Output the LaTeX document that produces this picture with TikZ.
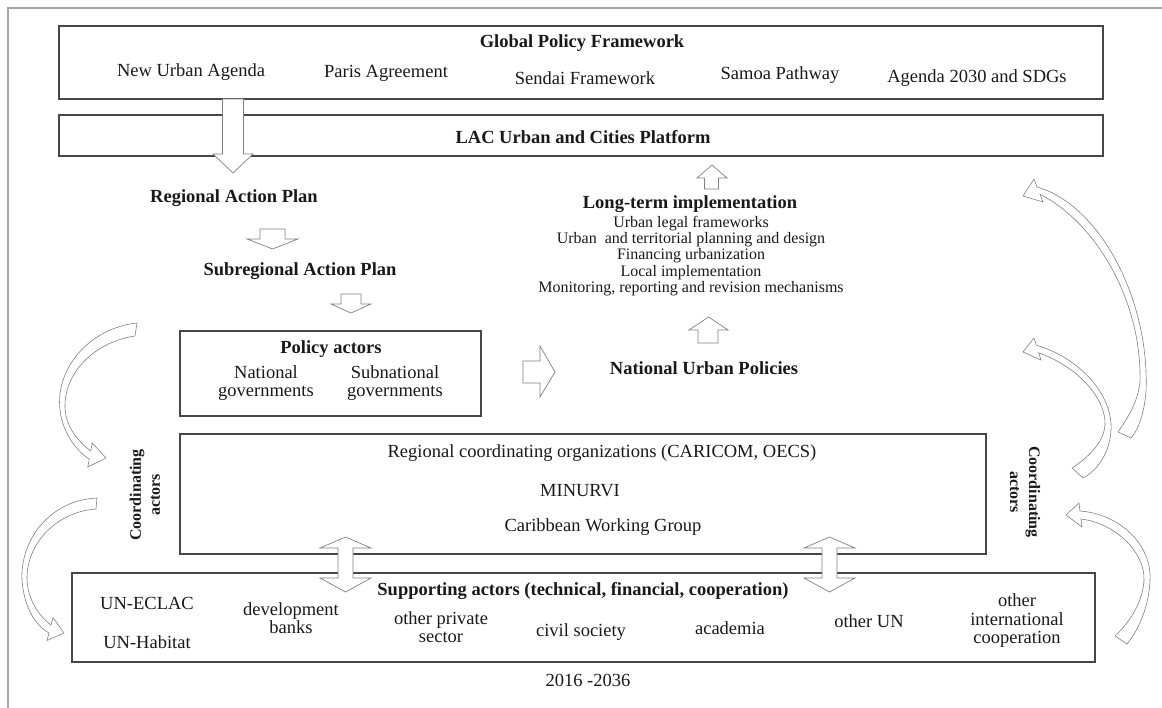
\documentclass[tikz,border=0pt]{standalone}
\usepackage{fontspec}
\setmainfont{Liberation Serif}
\usetikzlibrary{calc}

\begin{document}
\begin{tikzpicture}[
      x=1pt, y=-1pt,
      box/.style={draw=black!72, line width=1.2pt, inner sep=0pt},
      lbl/.style={align=center, inner sep=0pt, text=black!90, font=\fontsize{18.5}{18.5}\selectfont},
      hd/.style={lbl, font=\fontsize{18.5}{18.5}\selectfont\bfseries},
      sm/.style={lbl, font=\fontsize{16}{16.3}\selectfont},
      coord/.style={lbl, font=\fontsize{16}{19}\selectfont\bfseries},
      barrow/.style={draw=black!50, fill=white, line width=0.7pt, line join=miter},
      carrow/.style={draw=black!50, fill=white, line width=0.6pt},
    ]
      \useasboundingbox (0,0) rectangle (1162,708);
      \draw[black!35, line width=1.5pt] (8,708) -- (8,8) -- (1162,8);

      % frames
      \node[box, minimum width=1044pt, minimum height=73pt] (gpf) at (581,62.5) {};
      \node[box, minimum width=1044pt, minimum height=41pt] (lac) at (581,135.5) {};
      \node[box, minimum width=301pt, minimum height=85pt] (pol) at (330.5,373.5) {};
      \node[box, minimum width=806pt, minimum height=120pt] (crd) at (583,494) {};
      \node[box, minimum width=1023pt, minimum height=89pt] (sup) at (583.5,617.5) {};

      % global level
      \node[hd] (gpft) at (582,43) {Global Policy Framework};
      \node[lbl] (nua) at (191,72) {New Urban Agenda};
      \node[lbl] (paris) at (386,73) {Paris Agreement};
      \node[lbl] (sendai) at (585,78) {Sendai Framework};
      \node[lbl] (samoa) at (780,75) {Samoa Pathway};
      \node[lbl] (sdg) at (977,78) {Agenda 2030 and SDGs};
      \node[hd] (lact) at (583,137) {LAC Urban and Cities Platform};

      % regional chain
      \node[hd] (rap) at (234,198) {Regional Action Plan};
      \node[hd] (srap) at (300,271) {Subregional Action Plan};
      \node[hd] (polt) at (331,349) {Policy actors};
      \node[lbl] (natg) at (266,383) {National\\governments};
      \node[lbl] (subg) at (395,383) {Subnational\\governments};

      % implementation
      \node[hd] (ltit) at (690,204) {Long-term implementation};
      \node[sm] (ltl) at (691,256) {Urban legal frameworks\\Urban\ \ and territorial planning and design\\Financing urbanization\\Local implementation\\Monitoring, reporting and revision mechanisms};
      \node[hd] (nup) at (704,368) {National Urban Policies};

      % coordinating actors
      \node[lbl] (rco) at (602,453) {Regional coordinating organizations (CARICOM, OECS)};
      \node[lbl] (minu) at (580,491) {MINURVI};
      \node[lbl] (cwg) at (603,527) {Caribbean Working Group};
      \node[coord, rotate=90] (cal) at (145,495) {Coordinating\\actors};
      \node[coord, rotate=-90] (car) at (1025,492) {Coordinating\\actors};

      % supporting actors
      \node[hd] (supt) at (583,591) {Supporting actors (technical, financial, cooperation)};
      \node[lbl] (ecl) at (147,603) {UN-ECLAC};
      \node[lbl] (hab) at (147,642) {UN-Habitat};
      \node[lbl] (dvb) at (291,618) {development\\banks};
      \node[lbl] (ops) at (441,627) {other private\\sector};
      \node[lbl] (civ) at (581,632) {civil society};
      \node[lbl] (aca) at (730,628) {academia};
      \node[lbl] (oun) at (869,621) {other UN};
      \node[lbl] (oic) at (1017,621) {other\\international\\cooperation};
      \node[lbl] (yrs) at (588,680) {2016 -2036};

      % block arrows
      \draw[barrow] (222.5,99) -- (243.5,99) -- (243.5,154) -- (253,154) -- (233,173)
        -- (213,154) -- (222.5,154) -- cycle;
      \draw[barrow] (260,229) -- (285,229) -- (285,239) -- (298,239) -- (272.5,249)
        -- (247,239) -- (260,239) -- cycle;
      \draw[barrow] (341,294) -- (361,294) -- (361,304) -- (371,304) -- (351,313)
        -- (331,304) -- (341,304) -- cycle;
      \draw[barrow] (523,361) -- (540,361) -- (540,346) -- (555,372) -- (540,397)
        -- (540,383) -- (523,383) -- cycle;
      \draw[barrow] (698,343) -- (698,330) -- (689,330) -- (708.5,317) -- (728,330)
        -- (718,330) -- (718,343) -- cycle;
      \draw[barrow] (704.5,189) -- (704.5,178) -- (697,178) -- (712,165) -- (727,178)
        -- (718.5,178) -- (718.5,189) -- cycle;
      \draw[barrow] (345.5,537) -- (371,548) -- (353,548) -- (353,578) -- (371,578)
        -- (345.5,592) -- (320,578) -- (338,578) -- (338,548) -- (320,548) -- cycle;
      \draw[barrow] (829.5,537) -- (855,548) -- (837,548) -- (837,578) -- (855,578)
        -- (829.5,592) -- (804,578) -- (822,578) -- (822,548) -- (804,548) -- cycle;

      % curved arrows, left
      \draw[carrow] (137,323) .. controls (90,328) and (55,368) .. (60,410)
        .. controls (63,435) and (78,452) .. (89.3,459)
        -- (87.8,467) -- (106,458) -- (92.2,443) -- (90.7,451)
        .. controls (79,442) and (66,428) .. (65,408)
        .. controls (64,372) and (95,342) .. (135,336) -- cycle;
      \draw[carrow] (97,498) .. controls (50,500) and (20,540) .. (22,580)
        .. controls (24,608) and (36,626) .. (49,633)
        -- (47,640.5) -- (64,633) -- (53,617.5) -- (51,625)
        .. controls (39,616) and (28,600) .. (27,580)
        .. controls (26,545) and (55,512) .. (96,509) -- cycle;

      % curved arrows, right
      \draw[carrow] (1037,187) .. controls (1100,205) and (1150,300) .. (1146,392)
        .. controls (1144,415) and (1138,430) .. (1131,438)
        -- (1118,432)
        .. controls (1130,415) and (1138,400) .. (1140,382)
        .. controls (1142,300) and (1095,222) .. (1040,194.2)
        -- (1043,202) -- (1023,196) -- (1034,179) -- cycle;
      \draw[carrow] (1036.3,345.2) .. controls (1080,358) and (1113,395) .. (1111,430)
        .. controls (1110,452) and (1098,470) .. (1083,478)
        -- (1072,468)
        .. controls (1092,455) and (1104,440) .. (1105,425)
        .. controls (1106,397) and (1076,366) .. (1038.7,352.8)
        -- (1041,360) -- (1023,352) -- (1034,338) -- cycle;
      \draw[carrow] (1080,511) .. controls (1120,514) and (1152,545) .. (1150,580)
        .. controls (1149,605) and (1140,628) .. (1127,644)
        -- (1115,636)
        .. controls (1132,620) and (1143,600) .. (1144,580)
        .. controls (1145,552) and (1115,523) .. (1081,519)
        -- (1082,527) -- (1066,515) -- (1079,503) -- cycle;
    \end{tikzpicture}
\end{document}
